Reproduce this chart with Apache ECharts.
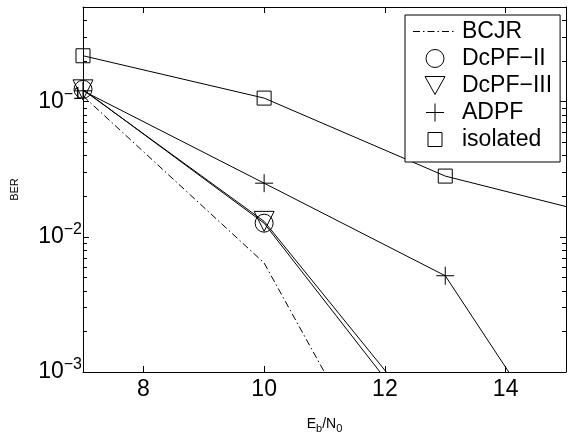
<!DOCTYPE html>
<html><head><meta charset="utf-8">
<script src="https://cdn.jsdelivr.net/npm/echarts@6/dist/echarts.min.js"></script>
<style>html,body{margin:0;padding:0;background:#fff}#c{width:569px;height:439px}</style>
</head><body><div id="c"></div>
<script>
// ---- data ----
const xBCJR = [7, 10, 13];
const yBCJR = [0.110, 0.0064, 0.000024];
const xDcPF2 = [7, 10, 13];
const yDcPF2 = [0.123, 0.0126, 0.00024];
const xDcPF3 = [7, 10, 13];
const yDcPF3 = [0.122, 0.0130, 0.00029];
const xADPF = [7, 10, 13, 16];
const yADPF = [0.12, 0.0249, 0.00515, 0.000048];
const xIso = [7, 10, 13, 16];
const yIso = [0.218, 0.106, 0.0281, 0.0129];
const xMin = 7, xMax = 15, yMin = 0.001, yMax = 0.5;
const xTicks = [8, 10, 12, 14];
const yMinorTicks = [0.002, 0.003, 0.004, 0.005, 0.006, 0.007, 0.008, 0.009,
                     0.02, 0.03, 0.04, 0.05, 0.06, 0.07, 0.08, 0.09,
                     0.2, 0.3, 0.4];
const seriesNames = ['BCJR', 'DcPF\u2212II', 'DcPF\u2212III', 'ADPF', 'isolated'];

const FONT = 'Liberation Sans, Arial, Helvetica, sans-serif';
const pair = (xs, ys) => xs.map((x, i) => [x, ys[i]]);
const hollow = {color: 'rgba(0,0,0,0)', borderColor: '#000', borderWidth: 1};
const plusPath = 'path://M0,9 L18,9 M9,0 L9,18';
const triPath = 'path://M0,0 L20,0 L10,18 Z';
const sqLegendPath = 'path://M0,0 M18,18 M2,2 L16,2 L16,16 L2,16 Z';
const dashDotPath = 'path://M0,0 M44,18 ' +
  'M0,8.5 h7 v1 h-7 z M10,8.5 h1.5 v1 h-1.5 z M14.5,8.5 h7 v1 h-7 z M24.5,8.5 h1.5 v1 h-1.5 z ' +
  'M29,8.5 h7 v1 h-7 z M39,8.5 h1.5 v1 h-1.5 z';
const MINOR_LEN = 4;

function yFmt(v) {
  const l = Math.log10(v), e = Math.round(l);
  if (Math.abs(l - e) > 1e-6) return '';
  return '10{s|' + (e < 0 ? '\u2212' : '') + Math.abs(e) + '}';
}

const chart = echarts.init(document.getElementById('c'), null, {renderer: 'canvas'});
const base = (name, xs, ys, extra) => Object.assign({
  name, type: 'line', data: pair(xs, ys), xAxisIndex: 0, yAxisIndex: 0,
  lineStyle: {color: '#000', width: 1}, itemStyle: hollow, emphasis: {disabled: true},
  clip: true, z: 3
}, extra);

const axisBlack = {show: true, onZero: false, lineStyle: {color: '#000', width: 1}};

chart.setOption({
  animation: false,
  backgroundColor: '#fff',
  grid: {left: 83, right: 3, top: 7, bottom: 52, containLabel: false},
  xAxis: [{
    type: 'value', min: xMin, max: xMax, position: 'bottom',
    name: 'E{sub|b}/N{sub|0}', nameLocation: 'middle', nameGap: 42,
    nameTextStyle: {fontFamily: FONT, fontSize: 14, color: '#000',
      rich: {sub: {fontFamily: FONT, fontSize: 11, color: '#000', padding: [9, 0, 0, 0]}}},
    axisLine: axisBlack,
    axisTick: {show: true, inside: true, length: 6, customValues: xTicks, lineStyle: {color: '#000'}},
    axisLabel: {customValues: xTicks, fontFamily: FONT, fontSize: 23, color: '#000', margin: 6},
    splitLine: {show: false}
  }, {
    type: 'value', min: xMin, max: xMax, position: 'top',
    axisLine: axisBlack,
    axisTick: {show: true, inside: true, length: 6, customValues: xTicks, lineStyle: {color: '#000'}},
    axisLabel: {show: false}, splitLine: {show: false}
  }],
  yAxis: [{
    type: 'log', logBase: 10, min: yMin, max: yMax, position: 'left',
    name: 'BER', nameLocation: 'middle', nameGap: 63,
    nameTextStyle: {fontFamily: FONT, fontSize: 11, color: '#000'},
    axisLine: axisBlack,
    axisTick: {show: true, inside: true, length: 6, lineStyle: {color: '#000'}},
    minorTick: {show: false},
    axisLabel: {formatter: yFmt, fontFamily: FONT, fontSize: 23, color: '#000', margin: 1,
      rich: {s: {fontFamily: FONT, fontSize: 16, color: '#000', padding: [0, 0, 14, 0]}}},
    splitLine: {show: false}
  }, {
    type: 'log', logBase: 10, min: yMin, max: yMax, position: 'right',
    axisLine: axisBlack,
    axisTick: {show: true, inside: true, length: 6, lineStyle: {color: '#000'}},
    minorTick: {show: false},
    axisLabel: {show: false}, splitLine: {show: false}
  }],
  legend: {
    show: true, orient: 'vertical', left: 405, top: 15, z: 10,
    padding: [5, 8, 11, 8], itemGap: 4, itemWidth: 44, itemHeight: 18,
    backgroundColor: '#fff', borderColor: '#000', borderWidth: 1, borderRadius: 0,
    textStyle: {fontFamily: FONT, fontSize: 23, color: '#000'},
    selectedMode: false,
    data: [
      {name: seriesNames[0], icon: dashDotPath, itemStyle: {color: '#000', borderWidth: 0}},
      {name: seriesNames[1], icon: 'circle', itemStyle: hollow},
      {name: seriesNames[2], icon: triPath, itemStyle: hollow},
      {name: seriesNames[3], icon: plusPath, itemStyle: hollow},
      {name: seriesNames[4], icon: sqLegendPath, itemStyle: hollow}
    ]
  },
  series: [
    base(seriesNames[0], xBCJR, yBCJR, {symbol: 'none', lineStyle: {color: '#000', width: 1, type: [7, 3, 1.5, 3]}}),
    base(seriesNames[1], xDcPF2, yDcPF2, {symbol: 'circle', symbolSize: 18}),
    base(seriesNames[2], xDcPF3, yDcPF3, {symbol: 'triangle', symbolRotate: 180, symbolSize: 20}),
    base(seriesNames[3], xADPF, yADPF, {symbol: plusPath, symbolSize: 18}),
    base(seriesNames[4], xIso, yIso, {symbol: 'rect', symbolSize: 14}),
    {
      name: 'minorTicks', type: 'custom', xAxisIndex: 0, yAxisIndex: 0, silent: true, z: 2,
      clip: false,
      data: yMinorTicks.map(v => [xMin, v]),
      renderItem: (params, api) => {
        const v = api.value(1);
        const pL = api.coord([xMin, v]);
        const pR = api.coord([xMax, v]);
        const y = Math.round(pL[1]) + 0.5;
        const st = {stroke: '#000', lineWidth: 1};
        return {type: 'group', children: [
          {type: 'line', shape: {x1: pL[0], y1: y, x2: pL[0] + MINOR_LEN, y2: y}, style: st},
          {type: 'line', shape: {x1: pR[0] - MINOR_LEN, y1: y, x2: pR[0], y2: y}, style: st}
        ]};
      }
    }
  ]
});
</script></body></html>
